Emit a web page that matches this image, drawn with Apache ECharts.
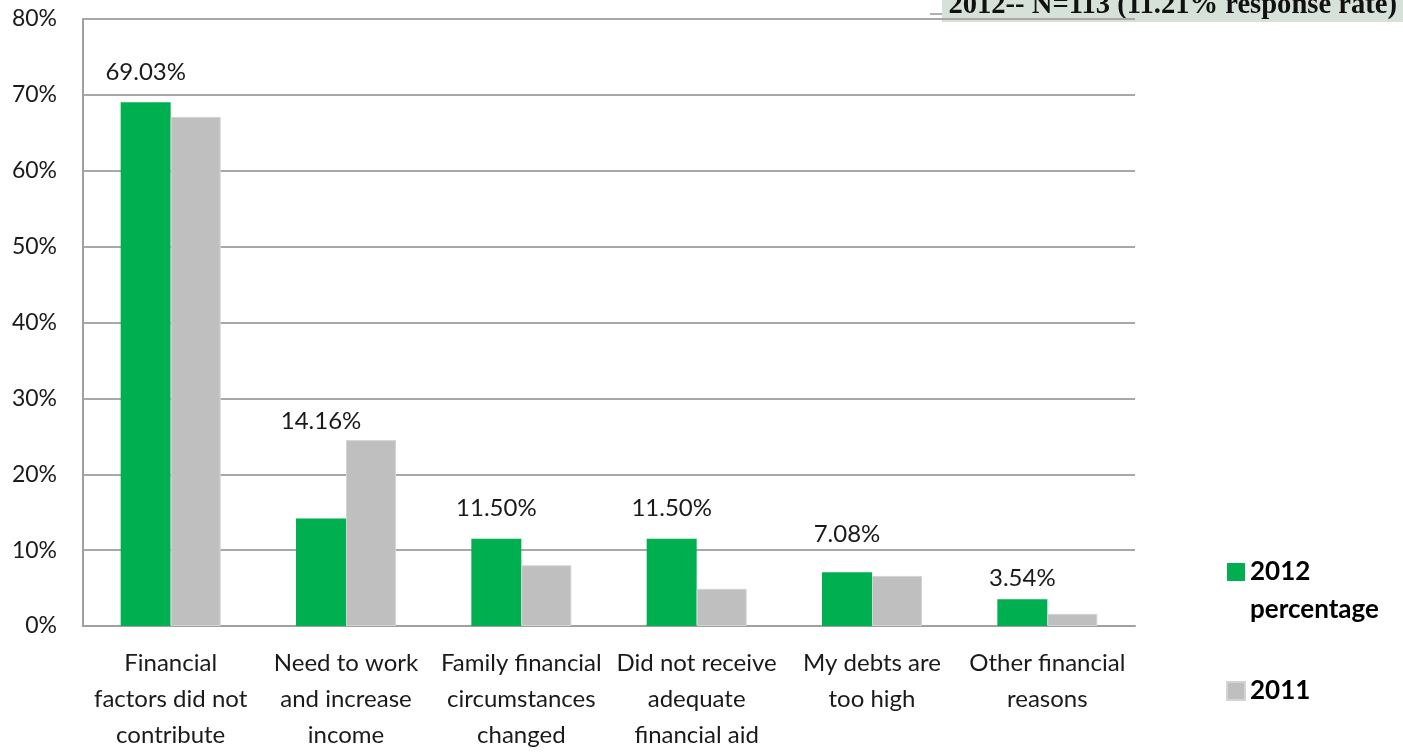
<!DOCTYPE html>
<html>
<head>
<meta charset="utf-8">
<script src="https://cdn.jsdelivr.net/npm/echarts@6/dist/echarts.min.js"></script>
<style>
  html, body { margin: 0; padding: 0; background: #fff; }
  #chart { width: 1403px; height: 753px; }
</style>
</head>
<body>
<div id="chart"></div>
<script>
// categories (x axis)
const categories = [
  "Financial\nfactors did not\ncontribute",
  "Need to work\nand increase\nincome",
  "Family financial\ncircumstances\nchanged",
  "Did not receive\nadequate\nfinancial aid",
  "My debts are\ntoo high",
  "Other financial\nreasons"
];
// series values (percent)
const values2012 = [69.03, 14.16, 11.50, 11.50, 7.08, 3.54];
const values2011 = [67.1, 24.5, 8.0, 4.9, 6.6, 1.6];
const seriesNames = ["2012 percentage", "2011"];
const titleText = "2012-- N=113 (11.21% response rate)";

// label lift above each green bar (Excel placed them unevenly)
const labelDist = [18, 85, 18, 18, 26, 9];

const font = "Lato, 'Open Sans', sans-serif";
let myChart = echarts.init(document.getElementById("chart"));

let option = {
  animation: false,
  grid: { left: 83, right: 268, top: 19, bottom: 125, containLabel: false },
  legend: {
    orient: "vertical",
    left: 1221,
    top: 510,
    itemWidth: 18,
    itemHeight: 18,
    itemGap: 43,
    icon: "rect",
    textStyle: { fontFamily: font, fontSize: 26, fontWeight: "bold", color: "#000", lineHeight: 38 },
    data: seriesNames,
    // blank first line keeps the square next to "2012"
    formatter: name => name.indexOf(" ") > 0 ? " \n" + name.replace(" ", "\n") : name
  },
  xAxis: {
    type: "category",
    data: categories,
    axisLine: { lineStyle: { color: "#a0a0a0", width: 2 } },
    axisTick: { show: false },
    axisLabel: {
      interval: 0,
      margin: 19,
      fontFamily: font,
      fontSize: 24,
      lineHeight: 36,
      color: "#1a1a1a"
    }
  },
  yAxis: {
    type: "value",
    min: 0,
    max: 80,
    interval: 10,
    axisLine: { show: true, lineStyle: { color: "#a0a0a0", width: 2 } },
    axisTick: { show: false },
    splitLine: { lineStyle: { color: "#a8a8a8", width: 2 } },
    axisLabel: {
      margin: 26,
      fontFamily: font,
      fontSize: 23,
      color: "#1a1a1a",
      formatter: v => v + "%"
    }
  },
  series: [
    {
      name: seriesNames[0],
      type: "bar",
      barWidth: 50,
      barGap: "0%",
      itemStyle: { color: "#00b050" },
      data: values2012.map((v, i) => ({
        value: v,
        label: { distance: labelDist[i] }
      })),
      label: {
        show: true,
        position: "top",
        fontFamily: font,
        fontSize: 24,
        color: "#1a1a1a",
        formatter: p => p.value.toFixed(2) + "%"
      }
    },
    {
      name: seriesNames[1],
      type: "bar",
      barWidth: 50,
      barGap: "0%",
      itemStyle: { color: "#bfbfbf", borderColor: "#d4d4d4", borderWidth: 1 },
      data: values2011
    }
  ],
  graphic: [
    { type: "rect", shape: { x: 942, y: 0, width: 461, height: 22 }, style: { fill: "#d6e1d9" } },
    { type: "line", shape: { x1: 930, y1: 14, x2: 942, y2: 14 }, style: { stroke: "#b0b0b0", lineWidth: 2 } },
    {
      type: "text",
      x: 1397,
      y: 6,
      style: {
        text: titleText,
        fill: "#111",
        font: "bold 28.6px 'Liberation Serif', serif",
        align: "right",
        verticalAlign: "middle"
      }
    }
  ]
};
myChart.setOption(option);
</script>
</body>
</html>
